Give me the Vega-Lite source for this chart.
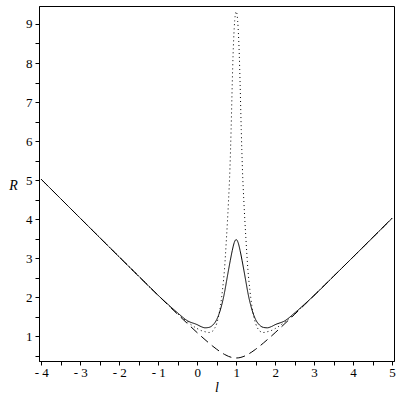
{
  "$schema": "https://vega.github.io/schema/vega-lite/v6.json",
  "autosize": "none",
  "width": 355,
  "height": 355,
  "padding": {"left": 39, "top": 6, "right": 6, "bottom": 39},
  "background": "white",
  "config": {
    "view": {"stroke": "black", "strokeWidth": 1},
    "axis": {
      "domainColor": "black", "tickColor": "black", "labelColor": "black", "titleColor": "black",
      "labelFont": "Liberation Serif", "labelFontSize": 13, "titleFont": "Liberation Serif",
      "titleFontSize": 14, "titleFontStyle": "italic", "titleFontWeight": "normal",
      "grid": false, "tickSize": 4, "labelPadding": 3
    }
  },
  "data": {"values": [
    {"x": -4, "y": 5.02, "s": "dashed"}, {"x": -3, "y": 4.025, "s": "dashed"}, {"x": -2, "y": 3.033, "s": "dashed"},
    {"x": -1.5, "y": 2.54, "s": "dashed"}, {"x": -1, "y": 2.049, "s": "dashed"}, {"x": -0.75, "y": 1.806, "s": "dashed"},
    {"x": -0.5, "y": 1.565, "s": "dashed"}, {"x": -0.25, "y": 1.328, "s": "dashed"}, {"x": 0, "y": 1.095, "s": "dashed"},
    {"x": 0.1, "y": 1.005, "s": "dashed"}, {"x": 0.2, "y": 0.917, "s": "dashed"}, {"x": 0.3, "y": 0.831, "s": "dashed"},
    {"x": 0.4, "y": 0.748, "s": "dashed"}, {"x": 0.5, "y": 0.671, "s": "dashed"}, {"x": 0.6, "y": 0.6, "s": "dashed"},
    {"x": 0.7, "y": 0.539, "s": "dashed"}, {"x": 0.8, "y": 0.49, "s": "dashed"}, {"x": 0.9, "y": 0.458, "s": "dashed"},
    {"x": 1, "y": 0.447, "s": "dashed"}, {"x": 1.1, "y": 0.458, "s": "dashed"}, {"x": 1.2, "y": 0.49, "s": "dashed"},
    {"x": 1.3, "y": 0.539, "s": "dashed"}, {"x": 1.4, "y": 0.6, "s": "dashed"}, {"x": 1.5, "y": 0.671, "s": "dashed"},
    {"x": 1.6, "y": 0.748, "s": "dashed"}, {"x": 1.7, "y": 0.831, "s": "dashed"}, {"x": 1.8, "y": 0.917, "s": "dashed"},
    {"x": 1.9, "y": 1.005, "s": "dashed"}, {"x": 2, "y": 1.095, "s": "dashed"}, {"x": 2.25, "y": 1.328, "s": "dashed"},
    {"x": 2.5, "y": 1.565, "s": "dashed"}, {"x": 2.75, "y": 1.806, "s": "dashed"}, {"x": 3, "y": 2.049, "s": "dashed"},
    {"x": 3.5, "y": 2.54, "s": "dashed"}, {"x": 4, "y": 3.033, "s": "dashed"}, {"x": 5, "y": 4.025, "s": "dashed"},

    {"x": -4, "y": 5.02, "s": "solid"}, {"x": -3, "y": 4.025, "s": "solid"}, {"x": -2, "y": 3.033, "s": "solid"},
    {"x": -1.5, "y": 2.54, "s": "solid"}, {"x": -1, "y": 2.05, "s": "solid"}, {"x": -0.75, "y": 1.82, "s": "solid"},
    {"x": -0.5, "y": 1.6, "s": "solid"}, {"x": -0.25, "y": 1.4, "s": "solid"}, {"x": 0, "y": 1.3, "s": "solid"},
    {"x": 0.1, "y": 1.25, "s": "solid"}, {"x": 0.2, "y": 1.22, "s": "solid"}, {"x": 0.3, "y": 1.23, "s": "solid"},
    {"x": 0.4, "y": 1.29, "s": "solid"}, {"x": 0.5, "y": 1.43, "s": "solid"}, {"x": 0.6, "y": 1.7, "s": "solid"},
    {"x": 0.7, "y": 2.12, "s": "solid"}, {"x": 0.75, "y": 2.4, "s": "solid"}, {"x": 0.8, "y": 2.68, "s": "solid"},
    {"x": 0.85, "y": 2.95, "s": "solid"}, {"x": 0.9, "y": 3.2, "s": "solid"}, {"x": 0.95, "y": 3.4, "s": "solid"},
    {"x": 1, "y": 3.48, "s": "solid"}, {"x": 1.05, "y": 3.4, "s": "solid"}, {"x": 1.1, "y": 3.2, "s": "solid"},
    {"x": 1.15, "y": 2.95, "s": "solid"}, {"x": 1.2, "y": 2.68, "s": "solid"}, {"x": 1.25, "y": 2.4, "s": "solid"},
    {"x": 1.3, "y": 2.12, "s": "solid"}, {"x": 1.4, "y": 1.7, "s": "solid"}, {"x": 1.5, "y": 1.43, "s": "solid"},
    {"x": 1.6, "y": 1.29, "s": "solid"}, {"x": 1.7, "y": 1.23, "s": "solid"}, {"x": 1.8, "y": 1.22, "s": "solid"},
    {"x": 1.9, "y": 1.25, "s": "solid"}, {"x": 2, "y": 1.3, "s": "solid"}, {"x": 2.25, "y": 1.4, "s": "solid"},
    {"x": 2.5, "y": 1.6, "s": "solid"}, {"x": 2.75, "y": 1.82, "s": "solid"}, {"x": 3, "y": 2.05, "s": "solid"},
    {"x": 3.5, "y": 2.54, "s": "solid"}, {"x": 4, "y": 3.033, "s": "solid"}, {"x": 5, "y": 4.025, "s": "solid"},

    {"x": -4, "y": 5.02, "s": "dotted"}, {"x": -3, "y": 4.025, "s": "dotted"}, {"x": -2, "y": 3.033, "s": "dotted"},
    {"x": -1.5, "y": 2.54, "s": "dotted"}, {"x": -1, "y": 2.05, "s": "dotted"}, {"x": -0.75, "y": 1.81, "s": "dotted"},
    {"x": -0.5, "y": 1.58, "s": "dotted"}, {"x": -0.25, "y": 1.37, "s": "dotted"}, {"x": 0, "y": 1.2, "s": "dotted"},
    {"x": 0.1, "y": 1.15, "s": "dotted"}, {"x": 0.2, "y": 1.12, "s": "dotted"}, {"x": 0.3, "y": 1.1, "s": "dotted"},
    {"x": 0.35, "y": 1.11, "s": "dotted"}, {"x": 0.4, "y": 1.14, "s": "dotted"}, {"x": 0.45, "y": 1.21, "s": "dotted"},
    {"x": 0.5, "y": 1.33, "s": "dotted"}, {"x": 0.55, "y": 1.52, "s": "dotted"}, {"x": 0.6, "y": 1.8, "s": "dotted"},
    {"x": 0.65, "y": 2.2, "s": "dotted"}, {"x": 0.7, "y": 2.72, "s": "dotted"}, {"x": 0.75, "y": 3.5, "s": "dotted"},
    {"x": 0.8, "y": 4.4, "s": "dotted"}, {"x": 0.84, "y": 5.3, "s": "dotted"}, {"x": 0.87, "y": 6.3, "s": "dotted"},
    {"x": 0.9, "y": 7.5, "s": "dotted"}, {"x": 0.92, "y": 8.2, "s": "dotted"}, {"x": 0.95, "y": 8.9, "s": "dotted"},
    {"x": 0.975, "y": 9.22, "s": "dotted"}, {"x": 1, "y": 9.32, "s": "dotted"}, {"x": 1.025, "y": 9.22, "s": "dotted"},
    {"x": 1.05, "y": 8.9, "s": "dotted"}, {"x": 1.08, "y": 8.2, "s": "dotted"}, {"x": 1.1, "y": 7.5, "s": "dotted"},
    {"x": 1.13, "y": 6.3, "s": "dotted"}, {"x": 1.16, "y": 5.3, "s": "dotted"}, {"x": 1.2, "y": 4.4, "s": "dotted"},
    {"x": 1.25, "y": 3.5, "s": "dotted"}, {"x": 1.3, "y": 2.72, "s": "dotted"}, {"x": 1.35, "y": 2.2, "s": "dotted"},
    {"x": 1.4, "y": 1.8, "s": "dotted"}, {"x": 1.45, "y": 1.52, "s": "dotted"}, {"x": 1.5, "y": 1.33, "s": "dotted"},
    {"x": 1.55, "y": 1.21, "s": "dotted"}, {"x": 1.6, "y": 1.14, "s": "dotted"}, {"x": 1.65, "y": 1.11, "s": "dotted"},
    {"x": 1.7, "y": 1.1, "s": "dotted"}, {"x": 1.8, "y": 1.12, "s": "dotted"}, {"x": 1.9, "y": 1.15, "s": "dotted"},
    {"x": 2, "y": 1.2, "s": "dotted"}, {"x": 2.25, "y": 1.37, "s": "dotted"}, {"x": 2.5, "y": 1.58, "s": "dotted"},
    {"x": 2.75, "y": 1.81, "s": "dotted"}, {"x": 3, "y": 2.05, "s": "dotted"}, {"x": 3.5, "y": 2.54, "s": "dotted"},
    {"x": 4, "y": 3.033, "s": "dotted"}, {"x": 5, "y": 4.025, "s": "dotted"}
  ]},
  "mark": {"type": "line", "interpolate": "monotone", "color": "black", "strokeWidth": 1, "clip": true},
  "encoding": {
    "x": {
      "field": "x", "type": "quantitative",
      "scale": {"domain": [-4.06, 5.05], "nice": false, "zero": false},
      "axis": {
        "title": "l", "values": [-4, -3.5, -3, -2.5, -2, -1.5, -1, -0.5, 0, 0.5, 1, 1.5, 2, 2.5, 3, 3.5, 4, 4.5, 5],
        "labelExpr": "datum.value % 1 == 0 ? (datum.value < 0 ? '- ' + abs(datum.value) : '' + datum.value) : ''",
        "labelPadding": 1, "titlePadding": 1, "labelFlush": false
      }
    },
    "y": {
      "field": "y", "type": "quantitative",
      "scale": {"domain": [0.37, 9.46], "nice": false, "zero": false},
      "axis": {
        "title": "R", "titleAngle": 0, "titleX": -26, "titleY": 179, "titleAlign": "center", "titleBaseline": "middle",
        "values": [0.5, 1, 1.5, 2, 2.5, 3, 3.5, 4, 4.5, 5, 5.5, 6, 6.5, 7, 7.5, 8, 8.5, 9],
        "labelExpr": "datum.value % 1 == 0 ? '' + datum.value : ''", "labelFlush": false
      }
    },
    "detail": {"field": "s"},
    "strokeDash": {
      "field": "s", "type": "nominal",
      "scale": {"domain": ["solid", "dotted", "dashed"], "range": [[1, 0], [1, 3], [9, 5]]},
      "legend": null
    }
  }
}
